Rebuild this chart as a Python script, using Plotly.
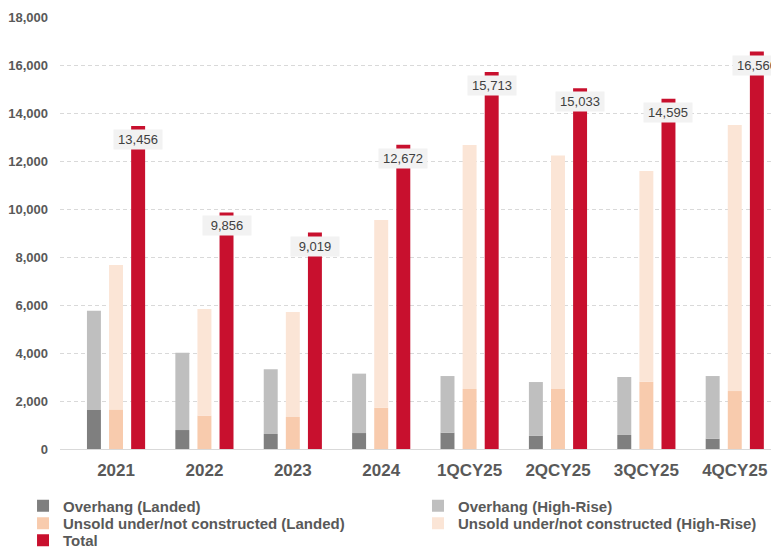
import plotly.graph_objects as go

categories = ["2021", "2022", "2023", "2024", "1QCY25", "2QCY25", "3QCY25", "4QCY25"]
overhang_landed = [1625, 790, 625, 665, 680, 545, 585, 430]
overhang_highrise = [4135, 3225, 2695, 2475, 2360, 2245, 2415, 2610]
unsold_landed = [1650, 1390, 1335, 1720, 2500, 2500, 2805, 2415]
unsold_highrise = [6020, 4445, 4375, 7820, 10170, 9725, 8780, 11085]
total = [13456, 9856, 9019, 12672, 15713, 15033, 14595, 16560]

C_OH_L = "#7F7F7F"
C_OH_H = "#BFBFBF"
C_UN_L = "#F8CBAD"
C_UN_H = "#FBE5D6"
C_TOT = "#C8102E"

idx = list(range(len(categories)))
x_oh = [i - 0.25 for i in idx]
x_un = [i + 0.0 for i in idx]
x_tot = [i + 0.25 for i in idx]
BW = 0.158

fig = go.Figure()
fig.add_trace(go.Bar(x=x_oh, y=overhang_landed, width=BW, name="Overhang (Landed)",
                     marker=dict(color=C_OH_L, line=dict(width=0)), legend="legend", showlegend=True))
fig.add_trace(go.Bar(x=x_oh, y=overhang_highrise, base=overhang_landed, width=BW,
                     name="Overhang (High-Rise)", marker=dict(color=C_OH_H, line=dict(width=0)),
                     legend="legend2", showlegend=True))
fig.add_trace(go.Bar(x=x_un, y=unsold_landed, width=BW, name="Unsold under/not constructed (Landed)",
                     marker=dict(color=C_UN_L, line=dict(width=0)), legend="legend3", showlegend=True))
fig.add_trace(go.Bar(x=x_un, y=unsold_highrise, base=unsold_landed, width=BW,
                     name="Unsold under/not constructed (High-Rise)",
                     marker=dict(color=C_UN_H, line=dict(width=0)), legend="legend4", showlegend=True))
fig.add_trace(go.Bar(x=x_tot, y=total, width=BW, name="Total",
                     marker=dict(color=C_TOT, line=dict(width=0)), legend="legend5", showlegend=True))

for xv, tv in zip(x_tot, total):
    fig.add_annotation(x=xv, y=tv, xref="x", yref="y", text=f"{tv:,}", showarrow=False,
                       yanchor="top", yshift=-3, bgcolor="#F2F2F2", borderpad=2, width=44,
                       font=dict(family="Arial, Liberation Sans, sans-serif", size=13, color="#404040"))

legend_font = dict(family="Arial, Liberation Sans, sans-serif", size=15, color="#595959", weight="bold")

PLOT_TOP, PLOT_BOTTOM = 17, 449
PLOT_H = PLOT_BOTTOM - PLOT_TOP


def leg(xp, yc):
    return dict(x=xp, y=(PLOT_BOTTOM - yc) / PLOT_H, xanchor="left", yanchor="middle",
                orientation="v", font=legend_font, bgcolor="rgba(0,0,0,0)", itemwidth=30)


COL1, COL2 = -0.052, 0.5035
fig.update_layout(
    width=771, height=548,
    margin=dict(l=60, r=0, t=PLOT_TOP, b=548 - PLOT_BOTTOM, autoexpand=False),
    barmode="overlay",
    showlegend=True,
    plot_bgcolor="white", paper_bgcolor="white",
    hovermode=False,
    legend=leg(COL1, 506),
    legend2=leg(COL2, 506),
    legend3=leg(COL1, 523.5),
    legend4=leg(COL2, 523.5),
    legend5=leg(COL1, 540.5),
    xaxis=dict(range=[-0.634, 7.41], tickvals=idx, ticktext=categories, showgrid=False,
               zeroline=False, showline=True, linecolor="#D9D9D9", linewidth=1,
               ticks="", ticklabelstandoff=6,
               tickfont=dict(family="Arial, Liberation Sans, sans-serif", size=17, color="#595959", weight="bold")),
    yaxis=dict(range=[0, 18000], tickvals=list(range(0, 18001, 2000)), tickformat=",d",
               showgrid=True, gridcolor="#D9D9D9", griddash="4px,3px", gridwidth=1,
               zeroline=True, zerolinecolor="#D9D9D9", zerolinewidth=1,
               ticks="", ticklabelstandoff=11,
               tickfont=dict(family="Arial, Liberation Sans, sans-serif", size=13, color="#595959", weight="bold")),
)

fig.write_html("out.html")
